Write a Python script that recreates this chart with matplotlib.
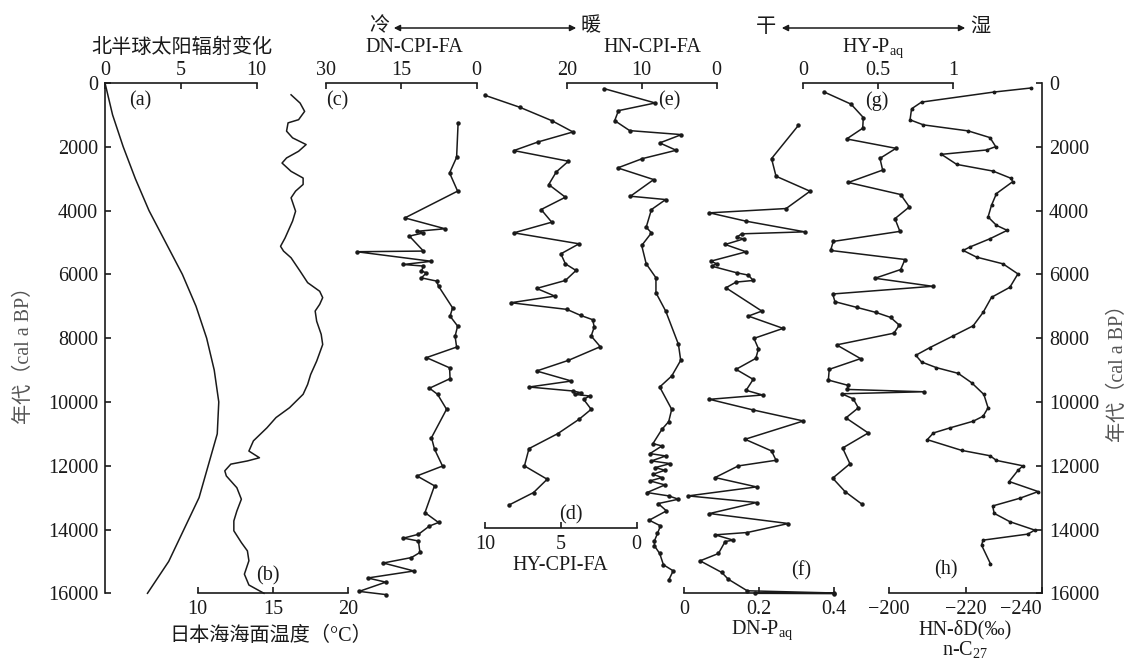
import matplotlib
matplotlib.use("Agg")
import matplotlib.pyplot as plt
from matplotlib.patches import FancyArrowPatch

# figure geometry in pixels (1131 x 665)
W, H = 1131, 665
TOP, BOT = 83, 593.3

plt.rcParams['font.family'] = ['Liberation Serif', 'Noto Sans CJK SC']
plt.rcParams['mathtext.fontset'] = 'custom'
plt.rcParams['mathtext.rm'] = 'Liberation Serif'
plt.rcParams['mathtext.it'] = 'Liberation Serif:italic'
plt.rcParams['axes.unicode_minus'] = True

FS = 14.5
INK = '#1a1a1a'

# ---- data (age in cal a BP) ----
# (a) NH insolation change
a_age = [0, 1000, 2000, 3000, 4000, 5000, 6000, 7000, 8000, 9000, 10000,
         11000, 12000, 13000, 14000, 15000, 16000]
a_val = [0, 0.5, 1.2, 2.0, 2.9, 4.0, 5.1, 6.0, 6.7, 7.2, 7.5,
         7.4, 6.8, 6.2, 5.2, 4.2, 2.8]

# (b) Japan Sea SST
b_age = [370, 630, 890, 1150, 1250, 1510, 1720, 1930, 2140, 2350,
         2510, 2770, 2980, 3180, 3390, 3600, 4020, 4330, 4860, 5120,
         5270, 5480, 5900, 6260, 6530, 6730, 6940, 7150, 7470, 7880,
         8200, 8720, 9140, 9450, 9760, 10180, 10490, 10810, 11220, 11540,
         11750, 11850, 11950, 12160, 12320, 12690, 13050, 13420, 13730, 14040,
         14410, 14670, 14980, 15400, 15740, 16000]
b_val = [16.2, 16.8, 17.1, 16.7, 16.0, 15.9, 16.3, 17.2, 16.7, 15.9,
         15.6, 16.2, 17.0, 17.0, 16.5, 16.2, 16.5, 16.3, 15.8, 15.5,
         15.7, 16.2, 16.8, 17.3, 18.1, 18.3, 18.1, 17.8, 17.9, 18.2,
         18.3, 17.9, 17.5, 17.3, 17.0, 16.1, 15.2, 14.6, 13.7, 13.4,
         14.1, 13.3, 12.2, 11.8, 11.9, 12.6, 12.9, 12.6, 12.4, 12.4,
         12.9, 13.3, 13.4, 13.1, 13.4, 14.4]

# (c) DN-CPI-FA
c_age = [1250, 2330, 2820, 3390, 4230, 4570, 4650, 4700, 4800, 5270,
         5290, 5590, 5690, 5740, 5900, 5950, 6110, 6210, 6370, 7050,
         7310, 7620, 7940, 8280, 8610, 8930, 9270, 9570, 9760, 10230,
         11120, 11480, 12010, 12320, 12630, 13470, 13780, 13890, 14150, 14270,
         14360, 14720, 14880, 15050, 15300, 15520, 15650, 15940, 16040]
c_val = [3.7, 4.0, 5.4, 3.8, 14.3, 6.3, 11.9, 10.6, 13.4, 10.6,
         23.9, 9.0, 14.6, 10.6, 11.0, 10.0, 11.0, 8.0, 7.6, 4.8,
         5.3, 3.8, 4.3, 4.0, 10.0, 5.4, 5.3, 9.4, 7.8, 6.0,
         9.0, 8.4, 6.8, 11.9, 8.4, 10.3, 7.6, 9.4, 11.6, 14.6,
         11.6, 11.3, 13.0, 18.6, 12.5, 21.7, 18.1, 23.4, 18.1]

# (d) HY-CPI-FA
d_age = [386, 762, 1180, 1535, 1848, 2119, 2453, 2787, 3184, 3581,
         3967, 4364, 4698, 5042, 5356, 5670, 5878, 6191, 6441, 6681,
         6890, 7098, 7286, 7422, 7652, 7934, 8268, 8696, 9030, 9344,
         9532, 9657, 9709, 9762, 9814, 9918, 10231, 10544, 10993, 11463,
         12006, 12424, 12841, 13228]
d_val = [10.0, 7.7, 5.6, 4.2, 6.5, 8.1, 4.5, 5.3, 5.8, 4.7,
         6.3, 5.6, 8.1, 3.8, 5.0, 4.7, 4.0, 4.7, 6.6, 5.4,
         8.3, 4.6, 3.7, 2.9, 2.8, 3.0, 2.4, 4.5, 6.6, 4.3,
         7.1, 4.2, 3.7, 4.1, 3.1, 3.5, 3.0, 3.8, 5.2, 7.1,
         7.4, 5.9, 6.8, 8.4]

# (e) HN-CPI-FA
e_age = [177, 626, 867, 1180, 1493, 1618, 1879, 2109, 2370, 2662,
         3028, 3550, 3654, 3967, 4521, 4698, 5095, 5669, 6107, 6577,
         7151, 8195, 8697, 9187, 9532, 10231, 10617, 10858, 11306, 11380,
         11620, 11693, 11849, 11933, 12058, 12142, 12267, 12371, 12476, 12601,
         12841, 12946, 13050, 13186, 13416, 13708, 13885, 14125, 14355, 14512,
         14752, 15107, 15295, 15588]
e_val = [15.0, 8.2, 13.1, 13.6, 11.6, 4.7, 7.6, 5.4, 9.9, 13.2,
         8.4, 11.5, 6.8, 8.7, 9.4, 8.7, 10.0, 9.4, 8.1, 8.1,
         6.8, 5.1, 4.8, 6.0, 7.6, 6.0, 6.4, 7.3, 8.5, 7.3,
         8.9, 6.8, 8.7, 6.2, 8.2, 6.9, 8.5, 7.3, 8.9, 6.9,
         9.3, 6.4, 5.1, 7.8, 6.7, 9.0, 7.5, 7.9, 8.3, 8.3,
         7.6, 7.1, 5.8, 6.4]

# (f) DN-Paq
f_age = [1326, 2370, 2923, 3393, 3936, 4071, 4333, 4667, 4729, 4834,
         4886, 5063, 5293, 5585, 5669, 5742, 5951, 6024, 6191, 6243,
         6421, 7151, 7308, 7694, 8007, 8331, 8634, 8978, 9292, 9636,
         9782, 9918, 10252, 10597, 11171, 11536, 11829, 12006, 12371, 12664,
         12946, 13154, 13499, 13812, 14094, 14167, 14334, 14376, 14752, 14982,
         15347, 15556, 15921, 15990, 16000, 16010]
f_val = [0.305, 0.233, 0.245, 0.336, 0.272, 0.067, 0.165, 0.322, 0.153, 0.14,
         0.159, 0.109, 0.165, 0.071, 0.086, 0.073, 0.14, 0.171, 0.184, 0.138,
         0.111, 0.207, 0.171, 0.264, 0.186, 0.198, 0.191, 0.138, 0.184, 0.165,
         0.209, 0.067, 0.184, 0.318, 0.162, 0.233, 0.245, 0.144, 0.082, 0.193,
         0.010, 0.193, 0.067, 0.278, 0.168, 0.082, 0.131, 0.109, 0.091, 0.042,
         0.1, 0.117, 0.168, 0.4, 0.19, 0.4]

# (g) HY-Paq
g_age = [284, 662, 1082, 1418, 1754, 2048, 2363, 2730, 3119, 3497,
         3885, 4253, 4652, 4967, 5250, 5534, 5849, 6122, 6374, 6615,
         6857, 7035, 7193, 7350, 7592, 7844, 8211, 8642, 8978, 9314,
         9482, 9608, 9681, 9744, 9902, 10185, 10500, 10973, 11445, 11939,
         12390, 12810, 13199]
g_val = [0.14, 0.318, 0.4, 0.396, 0.289, 0.618, 0.511, 0.529, 0.3, 0.649,
         0.707, 0.611, 0.644, 0.2, 0.182, 0.678, 0.649, 0.478, 0.862, 0.196,
         0.211, 0.356, 0.484, 0.582, 0.64, 0.604, 0.222, 0.382, 0.173, 0.167,
         0.3, 0.293, 0.804, 0.256, 0.333, 0.367, 0.284, 0.433, 0.262, 0.311,
         0.196, 0.278, 0.389]

# (h) HN-dD n-C27
h_age = [158, 284, 599, 809, 1155, 1313, 1502, 1712, 1995, 2100,
         2237, 2552, 2762, 2993, 3098, 3465, 3833, 4200, 4463, 4620,
         4883, 5145, 5250, 5460, 5670, 5985, 6405, 6720, 7193, 7613,
         7928, 8295, 8537, 8747, 8925, 9104, 9398, 9765, 10185, 10448,
         10605, 10815, 10973, 11183, 11519, 11687, 11834, 12002, 12149, 12495,
         12810, 13020, 13262, 13493, 13755, 14018, 14144, 14333, 14490, 15068]
h_val = [-237.0, -227.4, -208.5, -205.9, -205.5, -209.0, -220.7, -226.4, -227.9, -225.5,
         -213.7, -217.7, -227.2, -232.0, -232.3, -228.1, -226.8, -225.9, -228.1, -230.9,
         -226.4, -221.1, -219.4, -222.9, -229.8, -233.7, -231.6, -226.8, -224.6, -222.0,
         -216.8, -210.7, -207.0, -208.5, -212.4, -218.1, -221.6, -224.8, -225.9, -224.6,
         -222.0, -215.9, -211.6, -210.0, -219.0, -226.4, -228.1, -235.0, -233.7, -231.4,
         -239.0, -234.2, -227.1, -227.5, -231.6, -238.1, -236.3, -224.6, -224.2, -226.5]

age_ticks = list(range(0, 16001, 2000))


def fx(x):
    return x / W


def fy(y):
    return 1 - y / H


fig = plt.figure(figsize=(W / 100, H / 100), dpi=100)

# main frame with the two age axes
main = fig.add_axes([fx(105), fy(BOT), (1042 - 105) / W, (BOT - TOP) / H])
main.patch.set_visible(False)
main.set_ylim(16000, 0)
main.set_xlim(0, 1)
main.set_xticks([])
main.spines['top'].set_visible(False)
main.spines['bottom'].set_visible(False)
for s in ('left', 'right'):
    main.spines[s].set_linewidth(1.2)
    main.spines[s].set_color(INK)
main.set_yticks(age_ticks, [str(t) for t in age_ticks])
main.tick_params(axis='y', left=True, right=True, labelleft=True, labelright=True,
                 direction='in', length=4, width=1.2, pad=5, labelsize=FS, colors=INK)


def panel(x0, x1, xlim, ticks, labels, side, pos=None):
    ax = fig.add_axes([fx(x0), fy(BOT), (x1 - x0) / W, (BOT - TOP) / H])
    ax.patch.set_visible(False)
    ax.set_xlim(xlim)
    ax.set_ylim(16000, 0)
    for s in ax.spines.values():
        s.set_visible(False)
    ax.spines[side].set_visible(True)
    ax.spines[side].set_linewidth(1.2)
    ax.spines[side].set_color(INK)
    if pos is not None:
        ax.spines[side].set_position(('axes', pos))
    ax.set_yticks([])
    ax.set_xticks(ticks, labels)
    ax.xaxis.set_ticks_position(side)
    ax.tick_params(axis='x', direction='in', length=4, width=1.2,
                   pad=2 if side == 'top' else 4.5, labelsize=FS, colors=INK)
    return ax


ax_a = panel(105, 256.7, (0, 10), [0, 5, 10], ['0', '5', '10'], 'top')
ax_a.plot(a_val, a_age, color=INK, lw=1.1, clip_on=False)

ax_b = panel(197.7, 348.3, (10, 20), [10, 15, 20], ['10', '15', '20'], 'bottom')
ax_b.plot(b_val, b_age, color=INK, lw=1.1, clip_on=False)

ax_c = panel(326, 476.7, (30, 0), [30, 15, 0], ['30', '15', '0'], 'top')
ax_c.plot(c_val, c_age, color=INK, lw=1.1, marker='o', ms=2.2, clip_on=False)

ax_d = panel(485, 636.7, (10, 0), [10, 5, 0], ['10', '5', '0'], 'bottom',
             pos=(BOT - 528.3) / (BOT - TOP))
ax_d.plot(d_val, d_age, color=INK, lw=1.1, marker='o', ms=2.2, clip_on=False)

ax_e = panel(566.7, 716.7, (20, 0), [20, 10, 0], ['20', '10', '0'], 'top')
ax_e.plot(e_val, e_age, color=INK, lw=1.1, marker='o', ms=2.2, clip_on=False)

ax_f = panel(684.4, 834, (0, 0.4), [0, 0.2, 0.4], ['0', '0.2', '0.4'], 'bottom')
ax_f.plot(f_val, f_age, color=INK, lw=1.1, marker='o', ms=2.2, clip_on=False)

ax_g = panel(803.3, 953.3, (0, 1), [0, 0.5, 1], ['0', '0.5', '1'], 'top')
ax_g.plot(g_val, g_age, color=INK, lw=1.1, marker='o', ms=2.2, clip_on=False)

ax_h = panel(889, 1042, (-200, -240), [-200, -220, -240],
             ['\u2212200', '\u2212220', '\u2212240'], 'bottom')
ax_h.plot(h_val, h_age, color=INK, lw=1.1, marker='o', ms=1.8, clip_on=False)
# last label sits against the right age axis, keep it left of "16000"
ax_h.get_xticklabels()[-1].set_horizontalalignment('right')

# panel letters
for txt, x, y in [('(a)', 140, 101), ('(b)', 268, 576), ('(c)', 337, 101),
                  ('(d)', 571, 515), ('(e)', 669, 101), ('(f)', 801, 571),
                  ('(g)', 877, 101), ('(h)', 946, 570)]:
    fig.text(fx(x), fy(y), txt, ha='center', va='center', fontsize=FS, color=INK)

# axis titles
fig.text(fx(182), fy(48), '北半球太阳辐射变化', ha='center', va='center', fontsize=FS, color=INK)
fig.text(fx(414), fy(48), 'DN-CPI-FA', ha='center', va='center', fontsize=FS, color=INK)
fig.text(fx(652), fy(48), 'HN-CPI-FA', ha='center', va='center', fontsize=FS, color=INK)
fig.text(fx(873), fy(48), r'HY-P$_{\mathregular{aq}}$', ha='center', va='center', fontsize=FS, color=INK)
fig.text(fx(271), fy(636), '日本海海面温度（°C）', ha='center', va='center', fontsize=FS, color=INK)
fig.text(fx(560), fy(566), 'HY-CPI-FA', ha='center', va='center', fontsize=FS, color=INK)
fig.text(fx(762), fy(630), r'DN-P$_{\mathregular{aq}}$', ha='center', va='center', fontsize=FS, color=INK)
fig.text(fx(965), fy(630), 'HN-δD(‰)', ha='center', va='center', fontsize=FS, color=INK)
fig.text(fx(965), fy(650), r'n-C$_{\mathregular{27}}$', ha='center', va='center', fontsize=FS, color=INK)

# age labels
fig.text(fx(24), fy(350), '年代（cal a BP）', rotation=90, ha='center', va='center',
         fontsize=FS, color='#555555')
fig.text(fx(1118), fy(368), '年代（cal a BP）', rotation=90, ha='center', va='center',
         fontsize=FS, color='#555555')

# direction arrows
fig.text(fx(379), fy(27), '冷', ha='center', va='center', fontsize=FS, color=INK)
fig.text(fx(591), fy(27), '暖', ha='center', va='center', fontsize=FS, color=INK)
fig.text(fx(766), fy(27), '干', ha='center', va='center', fontsize=FS, color=INK)
fig.text(fx(980), fy(27), '湿', ha='center', va='center', fontsize=FS, color=INK)
for x0, x1 in [(391, 579), (779, 968)]:
    arr = FancyArrowPatch((fx(x0), fy(28)), (fx(x1), fy(28)), arrowstyle='<|-|>',
                          mutation_scale=9, lw=1.1, color=INK, transform=fig.transFigure)
    fig.add_artist(arr)

fig.savefig('out.png', dpi=100)
